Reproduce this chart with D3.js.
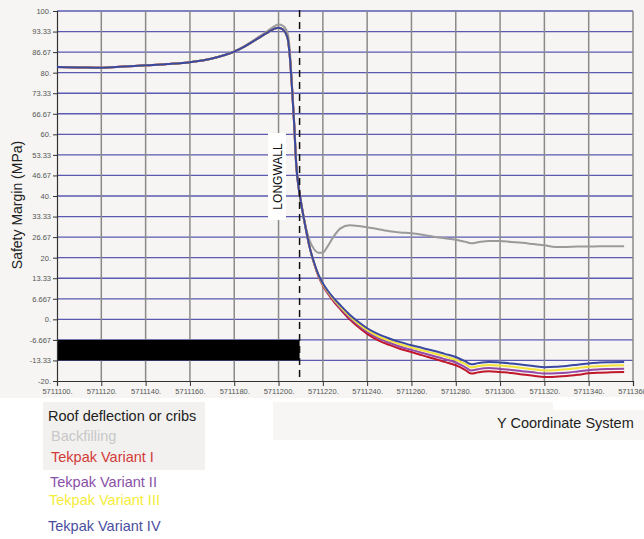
<!DOCTYPE html>
<html lang="en">
<head>
    <meta charset="UTF-8">
    <title>Safety Margin - Longwall</title>
    <script src="https://cdnjs.cloudflare.com/ajax/libs/d3/7.8.5/d3.min.js"></script>
    <style>
        body { margin: 0; background: #ffffff; }
        svg { display: block; font-family: "Liberation Sans", Arial, sans-serif; }
        .tick-label { font-size: 7.5px; fill: #555; }
    </style>
</head>
<body>
<div id="chart"></div>
<script>
    // y coordinate (x axis)
    const yCoord = [5711100, 5711110, 5711120, 5711130, 5711140, 5711150, 5711160, 5711170, 5711180, 5711185,
        5711190, 5711195, 5711198, 5711200, 5711202, 5711204, 5711205, 5711206, 5711207, 5711208,
        5711209, 5711210, 5711212, 5711214, 5711216, 5711218, 5711220, 5711222, 5711225, 5711228,
        5711232, 5711236, 5711240, 5711245, 5711250, 5711255, 5711260, 5711265, 5711270, 5711275,
        5711280, 5711284, 5711287, 5711290, 5711295, 5711300, 5711305, 5711310, 5711315, 5711320,
        5711325, 5711330, 5711335, 5711340, 5711345, 5711350, 5711356];

    const backfilling = [81.8, 81.7, 81.6, 82.0, 82.4, 82.8, 83.4, 84.6, 86.9, 88.8,
        91.1, 93.5, 95.0, 95.6, 95.2, 93.0, 88.0, 77.0, 65.0, 51.0,
        44.0, 39.0, 31.0, 25.6, 22.8, 21.6, 21.6, 23.5, 27.0, 29.5,
        30.5, 30.3, 29.9, 29.2, 28.6, 28.2, 27.9, 27.4, 26.8, 26.3,
        25.8, 25.2, 24.7, 25.0, 25.4, 25.4, 25.1, 24.8, 24.4, 24.0,
        23.5, 23.5, 23.6, 23.6, 23.7, 23.7, 23.7];

    const variantI = [81.8, 81.7, 81.6, 82.0, 82.4, 82.8, 83.4, 84.6, 86.8, 88.6,
        90.8, 93.0, 94.2, 94.6, 94.0, 91.5, 86.0, 76.0, 64.0, 50.0,
        43.0, 38.5, 30.5, 23.5, 18.2, 14.0, 11.0, 8.6, 5.7, 3.2,
        0.1, -2.5, -4.7, -6.8, -8.3, -9.6, -10.6, -11.7, -12.7, -13.8,
        -14.9, -16.3, -17.6, -17.2, -16.8, -17.1, -17.4, -17.9, -18.3, -18.7,
        -18.6, -18.4, -18.0, -17.5, -17.3, -17.2, -17.1];

    const variantII = [81.8, 81.7, 81.6, 82.0, 82.4, 82.8, 83.4, 84.6, 86.8, 88.6,
        90.8, 93.0, 94.2, 94.6, 94.0, 91.5, 86.0, 76.0, 64.0, 50.0,
        43.0, 38.5, 30.5, 23.5, 18.3, 14.2, 11.2, 8.9, 6.1, 3.6,
        0.6, -1.9, -4.1, -6.1, -7.6, -8.9, -9.9, -10.9, -11.9, -12.9,
        -14.0, -15.4, -16.6, -16.2, -15.8, -16.1, -16.4, -16.8, -17.2, -17.6,
        -17.5, -17.3, -16.9, -16.5, -16.2, -16.1, -16.0];

    const variantIII = [81.8, 81.7, 81.6, 82.0, 82.4, 82.8, 83.4, 84.6, 86.8, 88.6,
        90.8, 93.0, 94.2, 94.6, 94.0, 91.5, 86.0, 76.0, 64.0, 50.0,
        43.0, 38.5, 30.5, 23.5, 18.4, 14.3, 11.4, 9.2, 6.4, 4.0,
        1.1, -1.4, -3.5, -5.5, -6.9, -8.1, -9.1, -10.1, -11.0, -12.0,
        -13.1, -14.4, -15.6, -15.2, -14.8, -15.0, -15.3, -15.8, -16.2, -16.6,
        -16.5, -16.2, -15.8, -15.4, -15.1, -15.0, -14.9];

    const variantIV = [81.8, 81.7, 81.6, 82.0, 82.4, 82.8, 83.4, 84.6, 86.8, 88.6,
        90.8, 93.0, 94.2, 94.6, 94.0, 91.5, 86.0, 76.0, 64.0, 50.0,
        43.0, 38.5, 30.5, 23.5, 18.5, 14.5, 11.7, 9.5, 6.8, 4.5,
        1.6, -0.8, -2.9, -4.8, -6.2, -7.4, -8.4, -9.3, -10.2, -11.2,
        -12.2, -13.5, -14.6, -14.2, -13.8, -14.0, -14.3, -14.7, -15.1, -15.5,
        -15.4, -15.1, -14.7, -14.3, -14.0, -13.9, -13.8];

    const seriesNames = ['Backfilling', 'Tekpak Variant I', 'Tekpak Variant II', 'Tekpak Variant III', 'Tekpak Variant IV'];
    const seriesValues = [backfilling, variantI, variantII, variantIII, variantIV];
    const seriesColors = ['#9a9a9a', '#c0182a', '#9448a8', '#f2e23a', '#3a48a2'];

    const xTicks = [5711100, 5711120, 5711140, 5711160, 5711180, 5711200, 5711220, 5711240,
        5711260, 5711280, 5711300, 5711320, 5711340, 5711360];
    const yTickLabels = ['100.', '93.33', '86.67', '80.', '73.33', '66.67', '60.', '53.33', '46.67', '40.',
        '33.33', '26.67', '20.', '13.33', '6.667', '0.', '-6.667', '-13.33', '-20.'];
    const yTicks = yTickLabels.map(t => parseFloat(t));

    const longwallAt = 5711209.5;
    const blackBand = [-6.667, -13.33];

    function onLoad() {
        const width = 644, height = 539;
        const plotLeft = 57, plotRight = 633, plotTop = 11, plotBottom = 381;

        const svg = d3.select('#chart').append('svg')
            .attr('width', width)
            .attr('height', height);

        svg.append('rect').attr('width', width).attr('height', height).attr('fill', '#ffffff');
        svg.append('rect').attr('width', width).attr('height', 398).attr('fill', '#f6f5f3');
        svg.append('rect').attr('x', 43).attr('y', 402).attr('width', 162).attr('height', 68).attr('fill', '#f2f1ef');
        svg.append('rect').attr('x', 273).attr('y', 402).attr('width', 371).attr('height', 38).attr('fill', '#f7f6f4');
        svg.append('rect').attr('x', 553).attr('y', 397).attr('width', 91).attr('height', 13).attr('fill', '#ffffff');

        const x = d3.scaleLinear().domain([5711100, 5711360]).range([plotLeft, plotRight]);
        const y = d3.scaleLinear().domain([-20, 100]).range([plotBottom, plotTop]);

        // horizontal grid
        svg.append('g').selectAll('line')
            .data(yTicks.slice(0, -1))
            .enter().append('line')
            .attr('x1', plotLeft).attr('x2', plotRight)
            .attr('y1', d => y(d)).attr('y2', d => y(d))
            .attr('stroke', '#5a5ab0').attr('stroke-width', 1.3);

        // vertical grid
        svg.append('g').selectAll('line')
            .data(xTicks.slice(1))
            .enter().append('line')
            .attr('x1', d => x(d)).attr('x2', d => x(d))
            .attr('y1', plotTop).attr('y2', plotBottom)
            .attr('stroke', '#8a8a8a').attr('stroke-width', 1.5);

        // black band
        svg.append('rect')
            .attr('x', plotLeft)
            .attr('y', y(blackBand[0]))
            .attr('width', x(longwallAt) - plotLeft)
            .attr('height', y(blackBand[1]) - y(blackBand[0]))
            .attr('fill', '#000');

        // axes
        const yAxis = d3.axisLeft(y).tickValues(yTicks).tickFormat((d, i) => yTickLabels[i]).tickSize(4).tickPadding(2);
        const gy = svg.append('g').attr('transform', `translate(${plotLeft},0)`).call(yAxis);
        const xAxis = d3.axisBottom(x).tickValues(xTicks).tickFormat(d => d + '.').tickSize(5).tickPadding(3);
        const gx = svg.append('g').attr('transform', `translate(0,${plotBottom})`).call(xAxis);
        [gy, gx].forEach(g => {
            g.attr('font-family', null).attr('font-size', null);
            g.select('.domain').attr('stroke', '#333').attr('stroke-width', 1.2);
            g.selectAll('.tick line').attr('stroke', '#333');
            g.selectAll('.tick text').attr('class', 'tick-label').attr('fill', null);
        });

        // curves
        const line = d3.line()
            .x((d, i) => x(yCoord[i]))
            .y(d => y(d))
            .curve(d3.curveMonotoneX);

        svg.append('g').selectAll('path')
            .data(seriesValues)
            .enter().append('path')
            .attr('d', d => line(d))
            .attr('fill', 'none')
            .attr('stroke', (d, i) => seriesColors[i])
            .attr('stroke-width', 2);

        // longwall marker
        svg.append('line')
            .attr('x1', x(longwallAt)).attr('x2', x(longwallAt))
            .attr('y1', plotTop - 1).attr('y2', plotBottom)
            .attr('stroke', '#111').attr('stroke-width', 1.5)
            .attr('stroke-dasharray', '7,5');

        svg.append('rect')
            .attr('x', 268).attr('y', 133).attr('width', 18).attr('height', 87)
            .attr('fill', '#ffffff');
        svg.append('text')
            .attr('transform', 'translate(281.5,176.5) rotate(-90)')
            .attr('text-anchor', 'middle')
            .attr('font-size', 12)
            .attr('fill', '#111')
            .text('LONGWALL');

        // axis titles
        svg.append('text')
            .attr('transform', 'translate(22,205) rotate(-90)')
            .attr('text-anchor', 'middle')
            .attr('font-size', 14)
            .attr('fill', '#222')
            .text('Safety Margin (MPa)');

        svg.append('text')
            .attr('x', 497).attr('y', 428)
            .attr('font-size', 14.5)
            .attr('fill', '#222')
            .text('Y Coordinate System');

        // legend
        const legendLabels = ['Roof deflection or cribs'].concat(seriesNames);
        const legendColors = ['#222', '#c8c8c8', '#d23a3a', '#8a50a8', '#f4ec38', '#4a4ea0'];
        const legendX = [48, 51, 51, 50, 49, 48];
        const legendY = [421, 441, 462, 487, 505, 531];
        svg.append('g').selectAll('text')
            .data(legendLabels)
            .enter().append('text')
            .attr('x', (d, i) => legendX[i])
            .attr('y', (d, i) => legendY[i])
            .attr('font-size', 14.5)
            .attr('fill', (d, i) => legendColors[i])
            .text(d => d);
    }

    document.addEventListener('DOMContentLoaded', onLoad);
</script>
</body>
</html>
